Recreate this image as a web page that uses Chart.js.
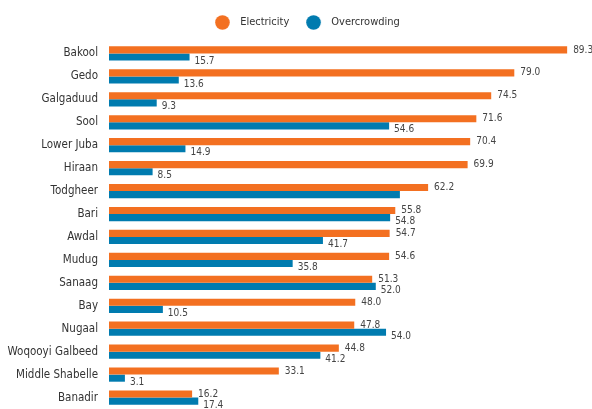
<!DOCTYPE html>
<html>
<head>
<meta charset="utf-8">
<script src="https://cdn.jsdelivr.net/npm/chart.js@4/dist/chart.umd.min.js"></script>
<style>
  html, body { margin: 0; padding: 0; background: #fff; }
</style>
</head>
<body>
<canvas id="chart" width="592" height="409"></canvas>
<script>
// Regions, sorted by access to electricity
const regions = ['Bakool', 'Gedo', 'Galgaduud', 'Sool', 'Lower Juba', 'Hiraan', 'Todgheer', 'Bari',
  'Awdal', 'Mudug', 'Sanaag', 'Bay', 'Nugaal', 'Woqooyi Galbeed', 'Middle Shabelle', 'Banadir'];
const electricity = [89.3, 79.0, 74.5, 71.6, 70.4, 69.9, 62.2, 55.8, 54.7, 54.6, 51.3, 48.0, 47.8, 44.8, 33.1, 16.2];
const overcrowding = [15.7, 13.6, 9.3, 54.6, 14.9, 8.5, 56.7, 54.8, 41.7, 35.8, 52.0, 10.5, 54.0, 41.2, 3.1, 17.4];
// the Todgheer overcrowding bar carries no label in the original
const hiddenLabels = { 1: [6] };

const colors = ['#F37021', '#007BAF'];
const FONT = "'DejaVu Sans Condensed', 'Liberation Sans', Arial, sans-serif";

// legend dot: circle sits left inside a wider image so the text gets some room
function dot(color) {
    const c = document.createElement('canvas');
    c.width = 20; c.height = 15;
    const g = c.getContext('2d');
    g.fillStyle = color;
    g.beginPath();
    g.arc(7.5, 7.5, 7.3, 0, Math.PI * 2);
    g.fill();
    return c;
}
const dots = colors.map(dot);

// draws the value next to each bar end
const valueLabels = {
    id: 'valueLabels',
    afterDatasetsDraw(chart) {
        const ctx = chart.ctx;
        ctx.save();
        ctx.font = '10px ' + FONT;
        ctx.fillStyle = '#444';
        ctx.textBaseline = 'middle';
        chart.data.datasets.forEach((ds, di) => {
            const meta = chart.getDatasetMeta(di);
            const skip = hiddenLabels[di] || [];
            meta.data.forEach((bar, i) => {
                if (skip.includes(i)) return;
                const dx = di === 0 ? 6 : 5;
                const dy = di === 0 ? 0 : 4;
                ctx.fillText(ds.data[i].toFixed(1), bar.x + dx, bar.y + dy);
            });
        });
        ctx.restore();
    }
};

// nudge the legend a little to the right, like the original
const legendShift = {
    id: 'legendShift',
    afterLayout(chart) {
        if (chart.legend) {
            chart.legend.left += 17;
            chart.legend.right += 17;
        }
    }
};

const ctx = document.getElementById('chart').getContext('2d');
new Chart(ctx, {
    type: 'bar',
    data: {
        labels: regions,
        datasets: [
            { label: 'Electricity', data: electricity, backgroundColor: colors[0] },
            { label: 'Overcrowding', data: overcrowding, backgroundColor: colors[1] }
        ]
    },
    options: {
        indexAxis: 'y',
        responsive: false,
        animation: false,
        categoryPercentage: 0.62,
        barPercentage: 1.0,
        layout: { padding: { left: 0, right: 11, top: 0, bottom: 0 } },
        scales: {
            x: {
                position: 'top', min: 0, max: 92,
                ticks: { display: false },
                grid: { display: false, drawTicks: false },
                border: { display: false },
                afterFit(scale) { scale.height = 4; }
            },
            y: {
                grid: { display: false, drawTicks: false },
                border: { display: false },
                ticks: { color: '#333', font: { family: FONT, size: 11.5 }, padding: 11 },
                afterFit(scale) {
                    scale.width = 109;
                    scale.paddingTop = 0;
                    scale.paddingBottom = 0;
                }
            }
        },
        plugins: {
            legend: {
                position: 'top',
                labels: {
                    usePointStyle: true,
                    pointStyleWidth: 19.5,
                    padding: 17,
                    color: '#333',
                    font: { family: FONT, size: 11 },
                    generateLabels(chart) {
                        const items = Chart.defaults.plugins.legend.labels.generateLabels(chart);
                        items.forEach((it, i) => { it.pointStyle = dots[i]; });
                        return items;
                    }
                }
            },
            tooltip: { enabled: false }
        }
    },
    plugins: [valueLabels, legendShift]
});
</script>
</body>
</html>
